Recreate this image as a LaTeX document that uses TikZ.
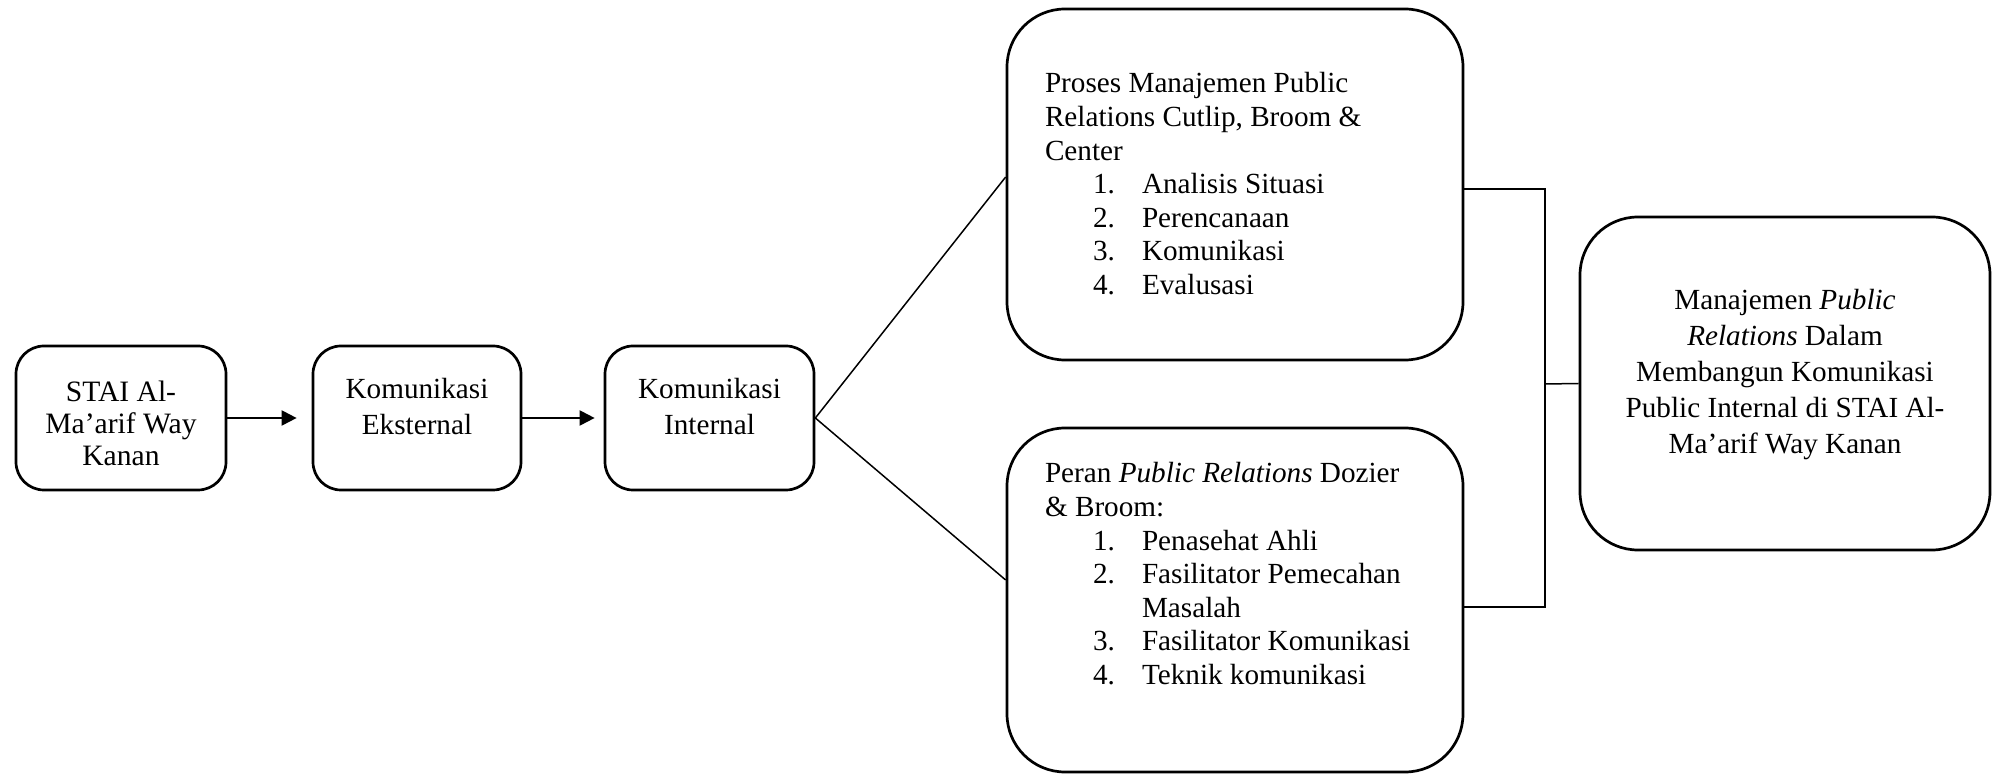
\documentclass[tikz,border=0pt]{standalone}
\usepackage{fontspec}
\setmainfont{Liberation Serif}
\usetikzlibrary{arrows.meta}
\newcommand{\txtfont}{\fontsize{14.6pt}{16.8pt}\selectfont}
\newcommand{\itm}[2]{\hspace*{24pt}\makebox[24.5pt][l]{#1}#2}
\begin{document}
\begin{tikzpicture}[x=0.5pt,y=-0.5pt,
  smallbox/.style={draw,line width=1.35pt,rounded corners=14pt,inner sep=0pt},
  bigbox/.style={draw,line width=1.35pt,rounded corners=29pt,inner sep=0pt},
  txt/.style={inner sep=0pt,outer sep=0pt},
  conn/.style={line width=0.75pt},
  arr/.style={line width=1pt,-{Triangle[length=7.5pt,width=7.5pt]}}]
\useasboundingbox (0,0) rectangle (1997,774);

% boxes
\node[smallbox,minimum width=105pt,minimum height=72pt] (b1) at (121,418) {};
\node[smallbox,minimum width=104pt,minimum height=72pt] (b2) at (417,418) {};
\node[smallbox,minimum width=104.5pt,minimum height=72pt] (b3) at (709.5,418) {};
\node[bigbox,minimum width=228pt,minimum height=175.5pt] (pA) at (1235,184.5) {};
\node[bigbox,minimum width=228pt,minimum height=172pt] (pB) at (1235,600) {};
\node[bigbox,minimum width=205pt,minimum height=166.5pt] (res) at (1785,383.5) {};

% texts
\node[txt,anchor=base] (t1) at (121,402) {\parbox[t]{110pt}{\centering\fontsize{14.8pt}{16pt}\selectfont STAI Al-\\Ma’arif Way\\Kanan}};
\node[txt,anchor=base] (t2) at (417,399) {\parbox[t]{110pt}{\centering\fontsize{14.6pt}{17.8pt}\selectfont Komunikasi\\Eksternal}};
\node[txt,anchor=base] (t3) at (709.5,399) {\parbox[t]{110pt}{\centering\fontsize{14.6pt}{17.8pt}\selectfont Komunikasi\\Internal}};
\node[txt,anchor=base west] (tA) at (1045,93) {\parbox[t]{215pt}{\raggedright\txtfont
  Proses Manajemen Public\\
  Relations Cutlip, Broom \&\\
  Center\\
  \itm{1.}{Analisis Situasi}\\
  \itm{2.}{Perencanaan}\\
  \itm{3.}{Komunikasi}\\
  \itm{4.}{Evalusasi}}};
\node[txt,anchor=base west] (tB) at (1045,483) {\parbox[t]{215pt}{\raggedright\txtfont
  Peran \textit{Public Relations} Dozier\\
  \& Broom:\\
  \itm{1.}{Penasehat Ahli}\\
  \itm{2.}{Fasilitator Pemecahan}\\
  \itm{}{Masalah}\\
  \itm{3.}{Fasilitator Komunikasi}\\
  \itm{4.}{Teknik komunikasi}}};
\node[txt,anchor=base] (tR) at (1785,310) {\parbox[t]{200pt}{\centering\fontsize{14.6pt}{17.9pt}\selectfont
  Manajemen \textit{Public}\\
  \textit{Relations} Dalam\\
  Membangun Komunikasi\\
  Public Internal di STAI Al-\\
  Ma’arif Way Kanan}};

% connectors
\draw[arr,shorten >=7.5pt] (b1.east) -- (b2.west);
\draw[arr,shorten >=4.5pt] (b2.east) -- (b3.west);
\draw[conn] (b3.east) -- ([yshift=3.75pt]pA.west);
\draw[conn] (b3.east) -- ([yshift=10pt]pB.west);
\coordinate (jm) at (1545,384);
\draw[conn] ([yshift=-2.25pt]pA.east) -| (jm) |- ([yshift=-3.5pt]pB.east);
\draw[conn] (jm) -- (res.west);
\end{tikzpicture}
\end{document}
